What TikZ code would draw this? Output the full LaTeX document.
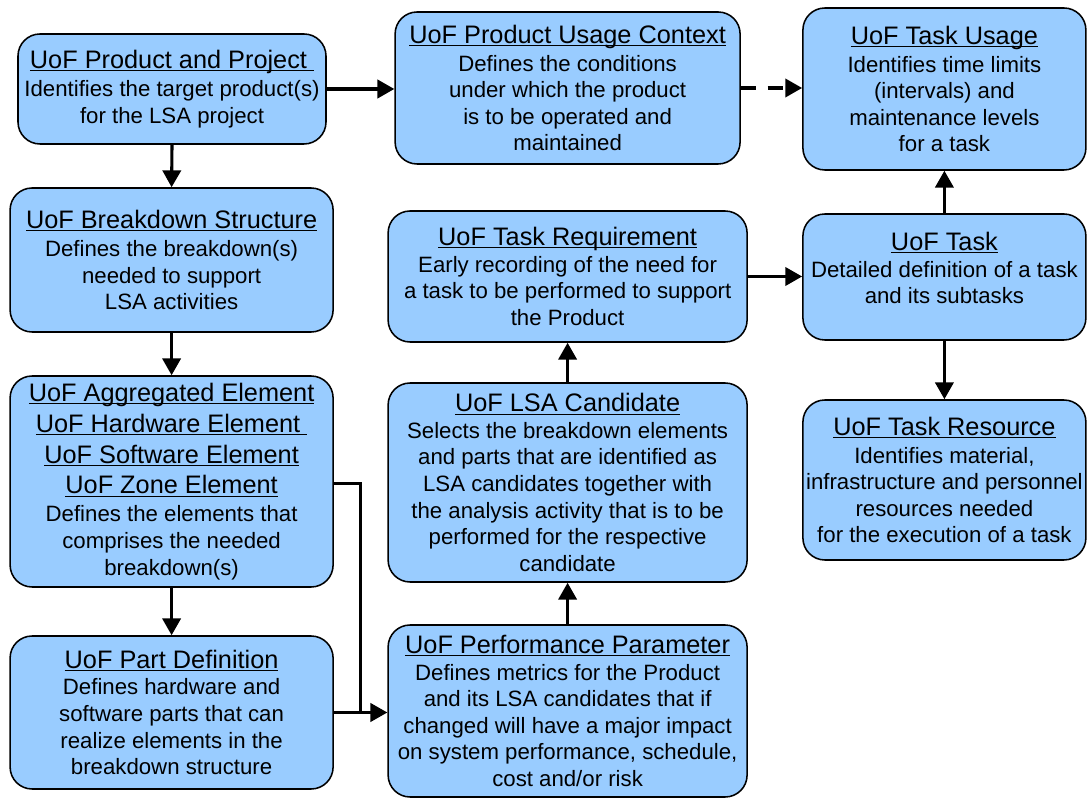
\documentclass[tikz,border=0pt]{standalone}
\usepackage{fontspec}
\setmainfont{Liberation Sans}
\usetikzlibrary{arrows.meta,calc}

\definecolor{uofblue}{RGB}{153,204,255}

% title line: underline runs just under the baseline, through descenders
\newcommand\uofhead[1]{{\fontsize{18}{19}\selectfont
		\setbox0\hbox{#1}\dp0=0pt\underline{\box0}}}

\tikzset{
		uof/.style   = {shape=rectangle, rounded corners=0.55cm,
				draw, line width=1.1pt, fill=uofblue, align=center,
				inner sep=0pt,
				font=\fontsize{15.8}{18.9}\selectfont},
		link/.style  = {line width=2.2pt, line join=miter,
				-{Triangle[length=12pt,width=13pt]}},
		joint/.style = {line width=2.2pt, line join=miter},
		maybe/.style = {link, dash pattern=on 11pt off 8pt}
	}

\begin{document}
\begin{tikzpicture}
				\useasboundingbox (0,0) rectangle (27.2,19.95);
				% left column
				\node [uof, minimum width=7.7cm, minimum height=2.75cm] (pp) at (4.30,17.725)
					{\uofhead{UoF Product and Project\ }\\[1.5pt] Identifies the target product(s)\\ for the LSA project};
				\node [uof, minimum width=8.075cm, minimum height=3.6cm] (bs) at (4.29,13.45)
					{\uofhead{UoF Breakdown Structure}\\[1pt] Defines the breakdown(s)\\ needed to support\\ LSA activities};
				\node [uof, minimum width=8.075cm, minimum height=5.275cm] (el) at (4.29,7.9125)
					{\uofhead{UoF Aggregated Element}\\[3pt] \uofhead{UoF Hardware Element\ }\\[3pt] \uofhead{UoF Software Element}\\[3pt] \uofhead{UoF Zone Element}\\[1pt] Defines the elements that\\ comprises the needed\\ breakdown(s)};
				\node [uof, minimum width=8.075cm, minimum height=3.825cm] (pd) at (4.29,2.1375)
					{\uofhead{UoF Part Definition}\\ Defines hardware and\\ software parts that can\\ realize elements in the\\ breakdown structure};
				% middle column
				\node [uof, minimum width=8.625cm, minimum height=3.8cm] (uc) at (14.19,17.75)
					{\uofhead{UoF Product Usage Context}\\[1pt] Defines the conditions\\ under which the product\\ is to be operated and\\ maintained};
				\node [uof, minimum width=8.975cm, minimum height=3.275cm] (tr) at (14.19,13.0375)
					{\uofhead{UoF Task Requirement}\\ Early recording of the need for\\ a task to be performed to support\\ the Product};
				\node [uof, minimum width=8.975cm, minimum height=4.975cm] (lc) at (14.19,7.8875)
					{\uofhead{UoF LSA Candidate}\\ Selects the breakdown elements\\ and parts that are identified as\\ LSA candidates together with\\ the analysis activity that is to be\\ performed for the respective\\ candidate};
				\node [uof, minimum width=8.975cm, minimum height=4.3cm] (pm) at (14.19,2.175)
					{\uofhead{UoF Performance Parameter}\\ Defines metrics for the Product\\ and its LSA candidates that if\\ changed will have a major impact\\ on system performance, schedule,\\ cost and/or risk};
				% right column
				\node [uof, minimum width=7.075cm, minimum height=4.05cm] (tu) at (23.61,17.725)
					{\uofhead{UoF Task Usage}\\[1pt] Identifies time limits\\ (intervals) and\\ maintenance levels\\ for a task};
				\node [uof, minimum width=7.075cm, minimum height=3.15cm] (tk) at (23.61,13.025)
					{\uofhead{UoF Task}\\ Detailed definition of a task\\ and its subtasks\\[-6pt] \mbox{}};
				\node [uof, minimum width=7.075cm, minimum height=4cm] (rs) at (23.61,7.95)
					{\uofhead{UoF Task Resource}\\[1pt] Identifies material,\\ infrastructure and personnel\\ resources  needed\\ for the execution of a task};

				% connectors
				\coordinate (join) at ($(pd.east)!0.5!(pd.east -| pm.west)$);
				\draw [link]  (pp.east) -- (pp.east -| uc.west);
				\draw [maybe] (uc.east) -- (uc.east -| tu.west);
				\draw [link]  (pp.south) -- (bs.north);
				\draw [link]  (bs.south) -- (el.north);
				\draw [link]  (el.south) -- (pd.north);
				\draw [joint] ([yshift=-0.05cm]el.east) -| (join);
				\draw [link]  (pd.east) -- (pd.east -| pm.west);
				\draw [link]  (pm.north) -- (lc.south);
				\draw [link]  (lc.north) -- (tr.south);
				\draw [link]  (tr.east) -- (tr.east -| tk.west);
				\draw [link]  (tk.north) -- (tu.south);
				\draw [link]  (tk.south) -- (rs.north);
			\end{tikzpicture}
\end{document}
